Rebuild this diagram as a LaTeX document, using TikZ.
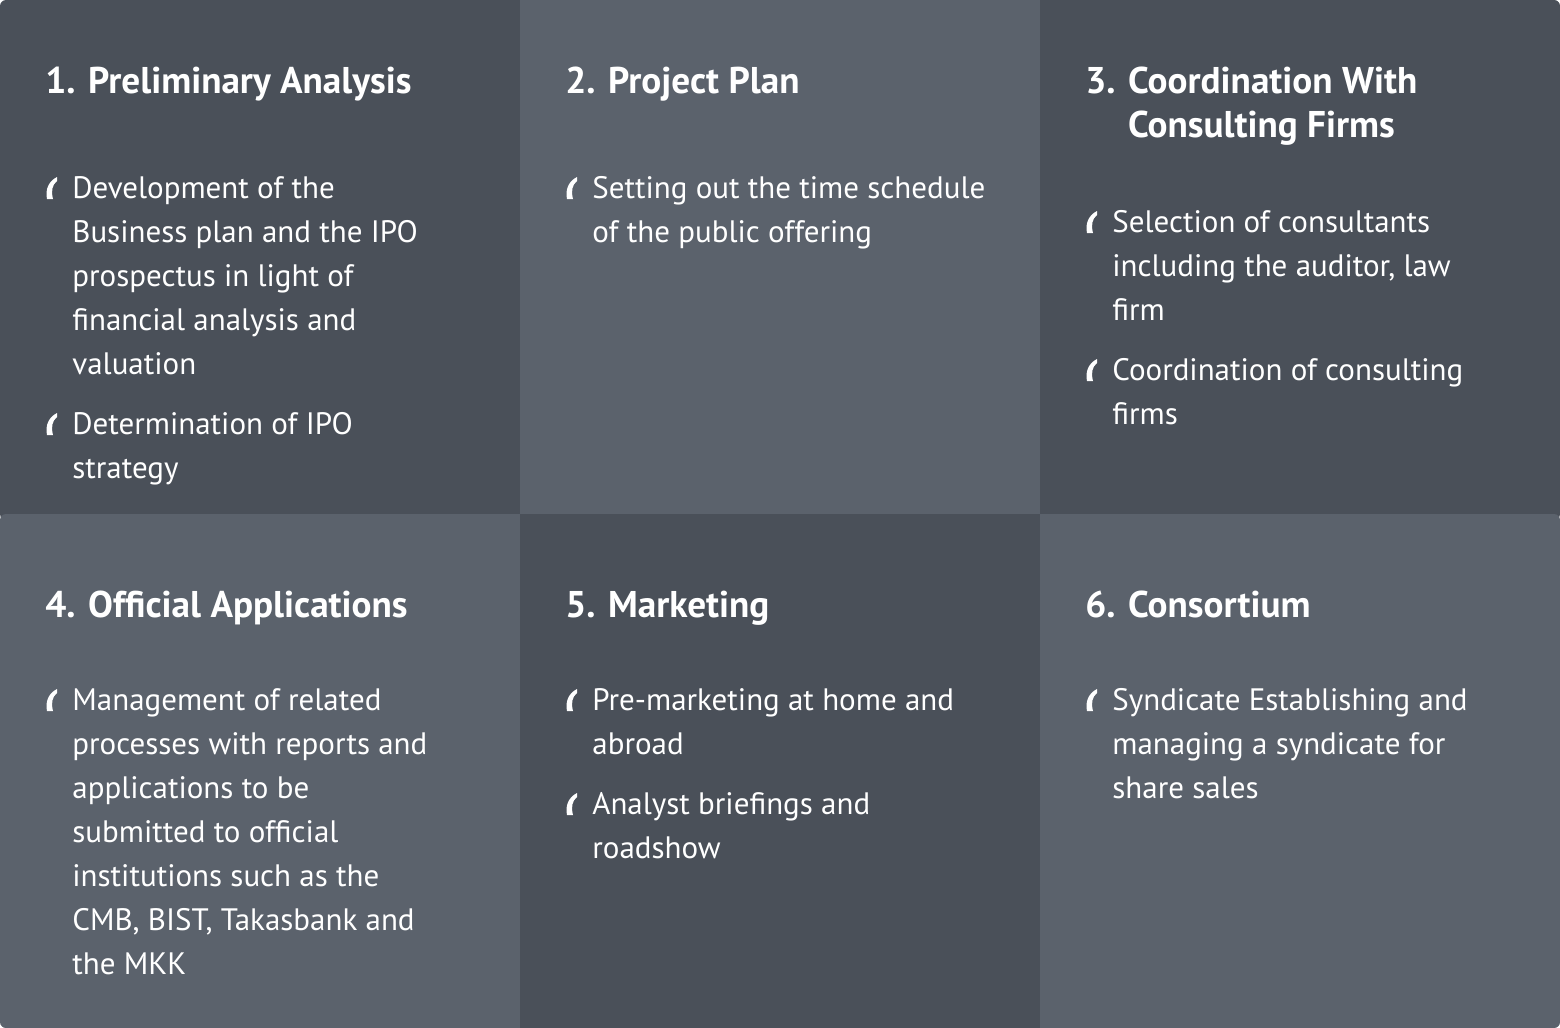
\documentclass[tikz,border=0pt]{standalone}
\usepackage{fontspec}
\setmainfont{PT Sans}
\definecolor{cellDark}{HTML}{4A5059}
\definecolor{cellLight}{HTML}{5B626C}
\tikzset{
  heading/.style={anchor=base west, inner sep=0pt, text=white,
    font=\fontsize{18.6}{22}\selectfont\bfseries, align=left},
  itemtext/.style={anchor=north west, inner sep=0pt, text=white,
    font=\fontsize{15.5}{22}\selectfont, align=left,
    execute at begin node=\strut},
  tick/.pic={\fill[white] (14,-22) .. controls (6,-18) and (2,-10) .. (4,0)
    -- (10,0) .. controls (8,-8) and (9,-14) .. (14,-18) -- cycle;}
}

\begin{document}
\begin{tikzpicture}[x=0.5pt,y=-0.5pt]
\useasboundingbox (0,0) rectangle (1560,1028);
% the six cells, one rounded band per row
\begin{scope}
  \clip[rounded corners=3pt] (0,0) rectangle (1560,520);
  \foreach \cx/\col in {0/cellDark, 520/cellLight, 1040/cellDark}
    \fill[\col] (\cx,0) rectangle +(520,520);
\end{scope}
\begin{scope}
  \clip[rounded corners=3pt] (0,514) rectangle (1560,1028);
  \foreach \cx/\col in {0/cellLight, 520/cellDark, 1040/cellLight}
    \fill[\col] (\cx,514) rectangle +(520,514);
\end{scope}

% row one
\node[heading] (t1) at (45,93) {1. Preliminary Analysis};
\node[heading] (t2) at (565,93) {2. Project Plan};
\node[heading] (t3) at (1085,137) {3. Coordination With\\\phantom{3. }Consulting Firms};

\pic at (43,199) {tick};
\node[itemtext] (a1) at (72,176) {Development of the\\Business plan and the IPO\\prospectus in light of\\financial analysis and\\valuation};
\pic at (43,435) {tick};
\node[itemtext] (a2) at (72,412) {Determination of IPO\\strategy};

\pic at (563,199) {tick};
\node[itemtext] (b1) at (592,176) {Setting out the time schedule\\of the public offering};

\pic at (1083,233) {tick};
\node[itemtext] (c1) at (1112,210) {Selection of consultants\\including the auditor, law\\firm};
\pic at (1083,381) {tick};
\node[itemtext] (c2) at (1112,358) {Coordination of consulting\\firms};

% row two
\node[heading] (t4) at (45,617) {4. Official Applications};
\node[heading] (t5) at (565,617) {5. Marketing};
\node[heading] (t6) at (1085,617) {6. Consortium};

\pic at (43,711) {tick};
\node[itemtext] (d1) at (72,688) {Management of related\\processes with reports and\\applications to be\\submitted to official\\institutions such as the\\CMB, BIST, Takasbank and\\the MKK};

\pic at (563,711) {tick};
\node[itemtext] (e1) at (592,688) {Pre-marketing at home and\\abroad};
\pic at (563,815) {tick};
\node[itemtext] (e2) at (592,792) {Analyst briefings and\\roadshow};

\pic at (1083,711) {tick};
\node[itemtext] (f1) at (1112,688) {Syndicate Establishing and\\managing a syndicate for\\share sales};
\end{tikzpicture}
\end{document}
